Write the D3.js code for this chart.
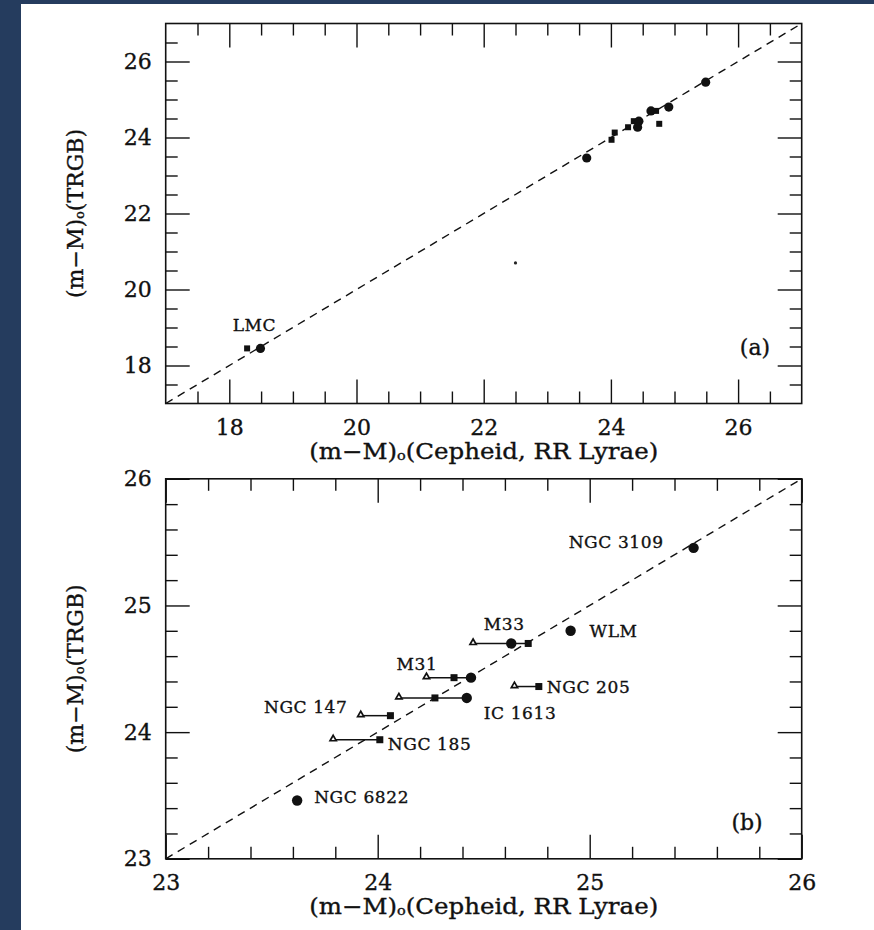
<!DOCTYPE html>
<html>
<head>
<meta charset="utf-8">
<script src="https://cdn.jsdelivr.net/npm/d3@7"></script>
<style>
html, body { margin: 0; padding: 0; background: #253c5e; }
svg { display: block; }
</style>
</head>
<body>
<svg id="chart" width="874" height="930"></svg>
<script>
// distance moduli
var galaxies   = ["NGC 3109", "WLM", "M33", "M31", "NGC 205", "IC 1613", "NGC 147", "NGC 185", "NGC 6822", "LMC"];
var trgb       = [25.455, 24.80, 24.70, 24.43, 24.36, 24.27, 24.13, 23.94, 23.46, 18.45];
var cepheid    = [25.49, 24.91, 24.63, 24.44, null, 24.42, null, null, 23.62, 18.49];
var rrLyrae    = [null, null, 24.71, 24.36, 24.76, 24.27, 24.06, 24.01, null, 18.28];
var rrLyraeAlt = [null, null, 24.45, 24.23, 24.645, 24.10, 23.92, 23.79, null, null];
var ticksA = [18, 20, 22, 24, 26];
var ticksB = [23, 24, 25, 26];
var speckA = [[22.5, 20.7]];

var svg = d3.select('#chart');
var serif = "'DejaVu Serif', serif";

svg.append('rect')
	.attr('x', 21).attr('y', 4)
	.attr('width', 874 - 21).attr('height', 930 - 4)
	.attr('fill', 'white');

var W = 636, H = 380;

// where each name sits relative to its circle (or square if no circle)
var labelPos = {
	"NGC 3109": [-30, -6, 'end'],
	"WLM": [19, 0, 'start'],
	"M33": [-7, -19, 'middle'],
	"M31": [-54, -14, 'middle'],
	"NGC 205": [8, 0, 'start'],
	"IC 1613": [17, 15, 'start'],
	"NGC 147": [-43, -9, 'end'],
	"NGC 185": [8, 4, 'start'],
	"NGC 6822": [17, -4, 'start'],
	"LMC": [-6, -23, 'middle']
};

var rows = galaxies.map(function (name, i) {
	return { name: name, y: trgb[i], c: cepheid[i], s: rrLyrae[i], t: rrLyraeAlt[i] };
});

drawPanel({ left: 165.7, top: 23.5, domain: [17, 27], ticks: ticksA, step: 0.5, tag: '(a)', tagPos: [755, 347],
	r: 4.6, sq: 6, full: false, labels: ["LMC"], specks: speckA });
drawPanel({ left: 165.7, top: 478.8, domain: [23, 26], ticks: ticksB, step: 0.2, tag: '(b)', tagPos: [747, 822],
	r: 5.2, sq: 7, full: true, labels: galaxies.filter(function (d) { return d != "LMC"; }), specks: [] });

function ink(sel) {
	// scanned print looks a little heavier than the plain font
	sel.attr('fill', '#111').attr('stroke', '#111').attr('stroke-width', 0.35);
}

function drawPanel(cfg) {
	var g = svg.append('g').attr('transform', `translate(${cfg.left},${cfg.top})`);
	var x = d3.scaleLinear().domain(cfg.domain).range([0, W]);
	var y = d3.scaleLinear().domain(cfg.domain).range([H, 0]);
	var minor = d3.range(cfg.domain[0] + cfg.step, cfg.domain[1] - 1e-6, cfg.step)
		.filter(function (v) { return !cfg.ticks.some(function (t) { return Math.abs(t - v) < 1e-6; }); });

	function styleAxis(sel) {
		sel.select('.domain').remove();
		sel.selectAll('line').attr('stroke', '#111').attr('stroke-width', 1.4);
		sel.selectAll('text').attr('font-family', serif).attr('font-size', 22).call(ink);
	}

	// major ticks, labelled on bottom and left
	g.append('g').attr('transform', `translate(0,${H})`)
		.call(d3.axisBottom(x).tickValues(cfg.ticks).tickSize(-24).tickSizeOuter(0).tickPadding(16).tickFormat(d3.format('d')))
		.call(styleAxis);
	g.append('g')
		.call(d3.axisLeft(y).tickValues(cfg.ticks).tickSize(-24).tickSizeOuter(0).tickPadding(14).tickFormat(d3.format('d')))
		.call(styleAxis);
	g.append('g')
		.call(d3.axisTop(x).tickValues(cfg.ticks).tickSize(-24).tickSizeOuter(0).tickFormat(''))
		.call(styleAxis);
	g.append('g').attr('transform', `translate(${W},0)`)
		.call(d3.axisRight(y).tickValues(cfg.ticks).tickSize(-24).tickSizeOuter(0).tickFormat(''))
		.call(styleAxis);

	// minor ticks on all four sides
	g.append('g').attr('transform', `translate(0,${H})`)
		.call(d3.axisBottom(x).tickValues(minor).tickSize(-12).tickSizeOuter(0).tickFormat('')).call(styleAxis);
	g.append('g')
		.call(d3.axisTop(x).tickValues(minor).tickSize(-12).tickSizeOuter(0).tickFormat('')).call(styleAxis);
	g.append('g')
		.call(d3.axisLeft(y).tickValues(minor).tickSize(-12).tickSizeOuter(0).tickFormat('')).call(styleAxis);
	g.append('g').attr('transform', `translate(${W},0)`)
		.call(d3.axisRight(y).tickValues(minor).tickSize(-12).tickSizeOuter(0).tickFormat('')).call(styleAxis);

	g.append('rect')
		.attr('width', W).attr('height', H)
		.attr('fill', 'none').attr('stroke', '#111').attr('stroke-width', 1.6);

	// one-to-one line
	g.append('line')
		.attr('x1', x(cfg.domain[0])).attr('y1', y(cfg.domain[0]))
		.attr('x2', x(cfg.domain[1])).attr('y2', y(cfg.domain[1]))
		.attr('stroke', '#111').attr('stroke-width', 1.4)
		.attr('stroke-dasharray', '8,6');

	var inRange = function (v) { return v != null && v >= cfg.domain[0] && v <= cfg.domain[1]; };
	var pts = rows.filter(function (d) { return inRange(d.y); });

	if (cfg.full) {
		g.selectAll('.link')
			.data(pts.filter(function (d) { return d.t != null; }))
			.enter().append('line')
			.attr('x1', function (d) { return x(d.t); })
			.attr('x2', function (d) { return x(d3.max([d.c, d.s])); })
			.attr('y1', function (d) { return y(d.y); })
			.attr('y2', function (d) { return y(d.y); })
			.attr('stroke', '#111').attr('stroke-width', 1.5);

		g.selectAll('.tri')
			.data(pts.filter(function (d) { return d.t != null; }))
			.enter().append('path')
			.attr('d', d3.symbol().type(d3.symbolTriangle).size(17))
			.attr('transform', function (d) { return `translate(${x(d.t)},${y(d.y) - 0.8})`; })
			.attr('fill', 'white').attr('stroke', '#111').attr('stroke-width', 1.7);
	}

	g.selectAll('.sq')
		.data(pts.filter(function (d) { return d.s != null; }))
		.enter().append('rect')
		.attr('x', function (d) { return x(d.s) - cfg.sq / 2; })
		.attr('y', function (d) { return y(d.y) - cfg.sq / 2; })
		.attr('width', cfg.sq).attr('height', cfg.sq)
		.attr('fill', '#111');

	g.selectAll('.dot')
		.data(pts.filter(function (d) { return d.c != null; }))
		.enter().append('circle')
		.attr('cx', function (d) { return x(d.c); })
		.attr('cy', function (d) { return y(d.y); })
		.attr('r', cfg.r)
		.attr('fill', '#111');

	g.selectAll('.speck')
		.data(cfg.specks)
		.enter().append('circle')
		.attr('cx', function (d) { return x(d[0]); })
		.attr('cy', function (d) { return y(d[1]); })
		.attr('r', 1.6)
		.attr('fill', '#222');

	g.selectAll('.name')
		.data(pts.filter(function (d) { return cfg.labels.indexOf(d.name) >= 0; }))
		.enter().append('text')
		.attr('x', function (d) { return x(d.c != null ? d.c : d.s) + labelPos[d.name][0]; })
		.attr('y', function (d) { return y(d.y) + labelPos[d.name][1]; })
		.attr('text-anchor', function (d) { return labelPos[d.name][2]; })
		.attr('dominant-baseline', 'central')
		.attr('font-family', serif).attr('font-size', 17)
		.attr('letter-spacing', 0.6)
		.call(ink)
		.text(function (d) { return d.name; });

	svg.append('text')
		.attr('x', cfg.tagPos[0]).attr('y', cfg.tagPos[1])
		.attr('text-anchor', 'middle').attr('dominant-baseline', 'central')
		.attr('font-family', serif).attr('font-size', 22)
		.call(ink)
		.text(cfg.tag);

	// axis titles
	var xt = g.append('text')
		.attr('x', W / 2).attr('y', H + 47)
		.attr('text-anchor', 'middle').attr('dominant-baseline', 'central')
		.attr('font-family', serif).attr('font-size', 22)
		.attr('textLength', 349).attr('lengthAdjust', 'spacingAndGlyphs')
		.call(ink);
	modulus(xt, 'Cepheid, RR Lyrae');

	var yt = g.append('text')
		.attr('transform', `translate(${75 - cfg.left},${H / 2}) rotate(-90)`)
		.attr('text-anchor', 'middle').attr('dominant-baseline', 'central')
		.attr('font-family', serif).attr('font-size', 22)
		.call(ink);
	modulus(yt, 'TRGB');
}

function modulus(t, what) {
	t.append('tspan').text('(m\u2212M)');
	t.append('tspan').attr('font-size', 13).attr('dy', 4).text('o');
	t.append('tspan').attr('dy', -4).text('(' + what + ')');
}
</script>
</body>
</html>
